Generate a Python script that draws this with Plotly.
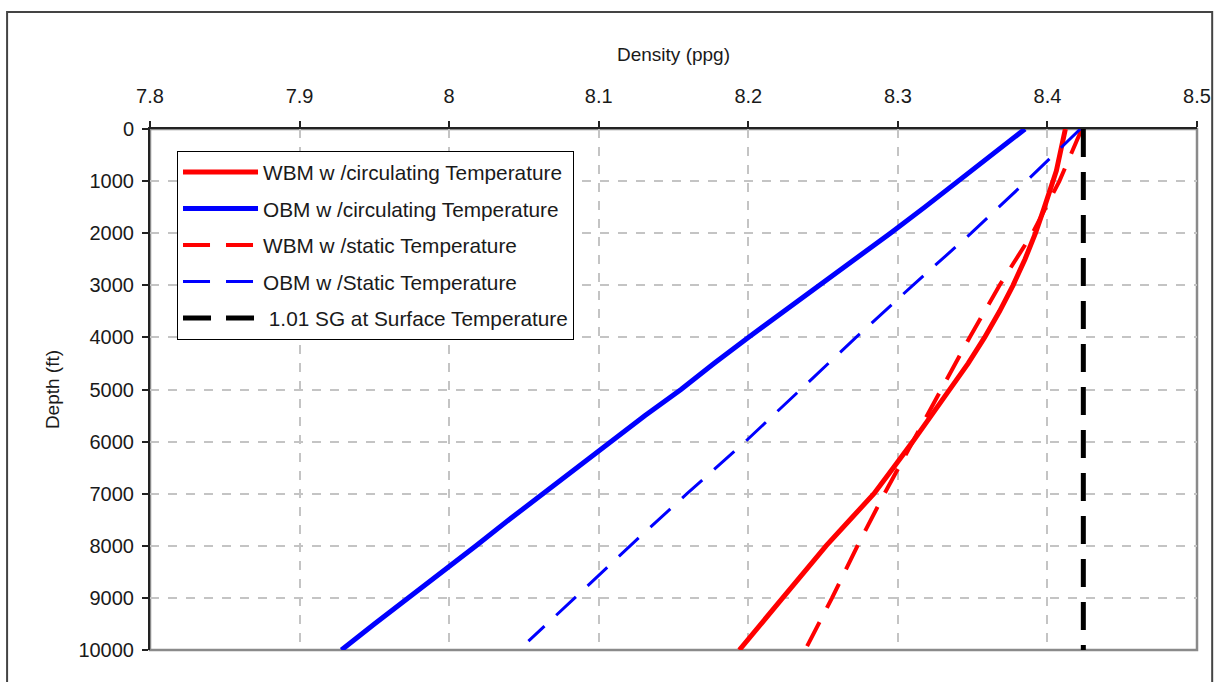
import plotly.graph_objects as go

# ---- data ----
obm_circ_depth = [0, 500, 1000, 1500, 2000, 2500, 3000, 3500, 4000, 4500, 5000,
                  5500, 6000, 6500, 7000, 7500, 8000, 8500, 9000, 9500, 10000]
obm_circ = [8.385, 8.363, 8.341, 8.318, 8.295, 8.271, 8.247, 8.223, 8.200, 8.177, 8.155,
            8.131, 8.108, 8.086, 8.063, 8.040, 8.018, 7.995, 7.972, 7.950, 7.928]

wbm_circ_depth = [0, 800, 1500, 2000, 2500, 3000, 3500, 4000, 4500, 5000, 5500,
                  6000, 6500, 7000, 7500, 8000, 9000, 10000]
wbm_circ = [8.412, 8.406, 8.398, 8.392, 8.385, 8.377, 8.368, 8.358, 8.347, 8.335, 8.323,
            8.310, 8.297, 8.284, 8.268, 8.252, 8.223, 8.194]

wbm_static_depth = [0, 1000, 2000, 2500, 3000, 3500, 4000, 5000, 6000, 6500, 7000,
                    8000, 9000, 10000]
wbm_static = [8.423, 8.408, 8.390, 8.379, 8.368, 8.358, 8.348, 8.329, 8.310, 8.300, 8.291,
              8.273, 8.256, 8.238]

obm_static_depth = [0, 1000, 2000, 3000, 4000, 5000, 6000, 7000, 8000, 9000, 9830]
obm_static = [8.422, 8.386, 8.349, 8.310, 8.272, 8.235, 8.198, 8.159, 8.121, 8.084, 8.053]

sg_depth = [0, 10000]
sg_surface = [8.424, 8.424]

x_ticks = [7.8, 7.9, 8.0, 8.1, 8.2, 8.3, 8.4, 8.5]
x_labels = ["7.8", "7.9", "8", "8.1", "8.2", "8.3", "8.4", "8.5"]
y_ticks = [0, 1000, 2000, 3000, 4000, 5000, 6000, 7000, 8000, 9000, 10000]
y_labels = [str(v) for v in y_ticks]

names = ["WBM w /circulating Temperature", "OBM w /circulating Temperature",
         "WBM w /static Temperature", "OBM w /Static Temperature",
         " 1.01 SG at Surface Temperature"]

FONT = "Liberation Sans, Arial, sans-serif"

fig = go.Figure()
fig.add_trace(go.Scatter(x=wbm_circ, y=wbm_circ_depth, mode="lines", name=names[0],
                         legendgroup="a", line=dict(color="#FF0000", width=5)))
fig.add_trace(go.Scatter(x=obm_circ, y=obm_circ_depth, mode="lines", name=names[1],
                         legendgroup="b", line=dict(color="#0000FF", width=5)))
fig.add_trace(go.Scatter(x=wbm_static, y=wbm_static_depth, mode="lines", name=names[2],
                         legendgroup="c", line=dict(color="#FF0000", width=4, dash="27px,16px")))
fig.add_trace(go.Scatter(x=obm_static, y=obm_static_depth, mode="lines", name=names[3],
                         legendgroup="d", line=dict(color="#0000FF", width=3, dash="27px,16px")))
fig.add_trace(go.Scatter(x=sg_surface, y=sg_depth, mode="lines", name=names[4],
                         legendgroup="e", line=dict(color="#000000", width=5, dash="28px,15px")))

fig.update_layout(
    width=1218, height=682,
    margin=dict(l=150, r=21, t=129, b=32, autoexpand=False),
    paper_bgcolor="white", plot_bgcolor="white",
    font=dict(family=FONT, size=20, color="#1a1a1a"),
    showlegend=True,
    legend=dict(x=0.0258, y=0.958, xanchor="left", yanchor="top",
                bgcolor="white", bordercolor="#000000", borderwidth=1,
                font=dict(family=FONT, size=20.8, color="#1a1a1a"),
                tracegroupgap=6.5, itemwidth=75),
    xaxis=dict(side="top", range=[7.8, 8.5], tickvals=x_ticks, ticktext=x_labels,
               automargin=False,
               showgrid=True, gridcolor="#c4c4c4", gridwidth=1.5, griddash="dash",
               zeroline=False, showline=True, linecolor="#222222", linewidth=2,
               ticks="outside", ticklen=6, tickcolor="#222222", tickwidth=1.5,
               ticklabelstandoff=10,
               title=dict(text="Density (ppg)", font=dict(size=19), standoff=18)),
    yaxis=dict(range=[10000, 0], tickvals=y_ticks, ticktext=y_labels,
               automargin=False,
               showgrid=True, gridcolor="#c4c4c4", gridwidth=1.5, griddash="dash",
               zeroline=False, showline=True, linecolor="#222222", linewidth=2,
               ticks="outside", ticklen=6, tickcolor="#222222", tickwidth=1.5,
               ticklabelstandoff=4,
               title=dict(text="Depth (ft)", font=dict(size=19), standoff=14)),
    shapes=[
        # plot-area border (right/bottom grey)
        dict(type="rect", xref="paper", yref="paper", x0=0, x1=1, y0=0, y1=1,
             line=dict(color="#8a8a8a", width=2.5), layer="below"),
        # outer chart frame
        dict(type="rect", xref="paper", yref="paper", x0=-0.1365, x1=1.0145,
             y0=-0.09, y1=1.2245, line=dict(color="#444444", width=2), layer="below"),
    ],
)

fig.write_html("out.html")
